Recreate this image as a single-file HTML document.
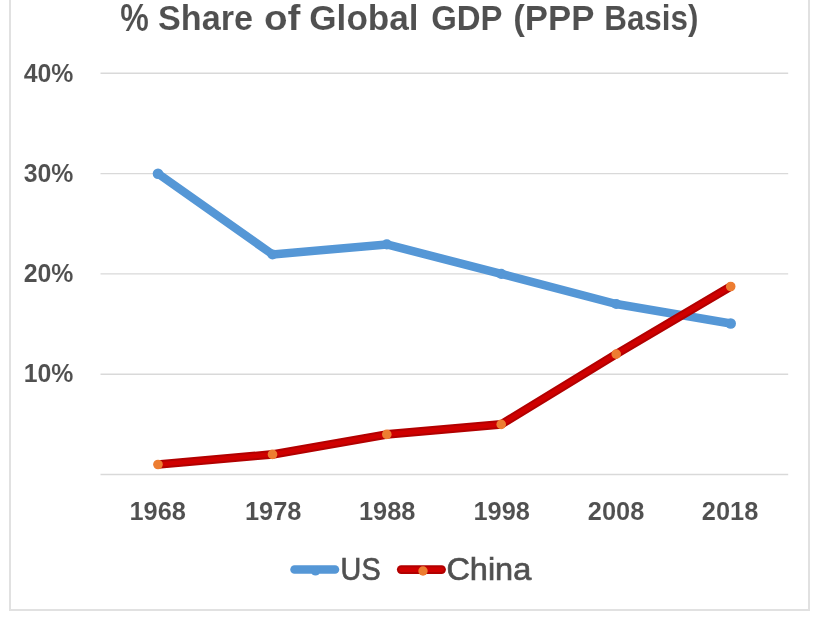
<!DOCTYPE html>
<html>
<head>
<meta charset="utf-8">
<title>% Share of Global GDP (PPP Basis)</title>
<style>
html,body{margin:0;padding:0;background:#fff;}
body{width:830px;height:622px;overflow:hidden;}
svg{display:block;filter:blur(0.45px);}
text{font-family:"Liberation Sans",sans-serif;fill:#505050;}
.b{font-weight:bold;stroke:#fff;stroke-width:0.08px;}
</style>
</head>
<body>
<svg width="830" height="622" viewBox="0 0 830 622">
<rect x="0" y="0" width="830" height="622" fill="#ffffff"/>
<!-- chart frame -->
<rect x="10" y="-20" width="799" height="630" fill="none" stroke="#e1e1e1" stroke-width="2"/>
<!-- gridlines -->
<g stroke="#d9d9d9" stroke-width="1.4">
<line x1="100.5" y1="73.3" x2="788.2" y2="73.3"/>
<line x1="100.5" y1="173.6" x2="788.2" y2="173.6"/>
<line x1="100.5" y1="273.9" x2="788.2" y2="273.9"/>
<line x1="100.5" y1="374.2" x2="788.2" y2="374.2"/>
<line x1="100.5" y1="474.5" x2="788.2" y2="474.5"/>
</g>
<!-- title -->
<text class="b" y="30" font-size="35"><tspan x="120.3" y="30.6" font-size="39" textLength="28.6" lengthAdjust="spacingAndGlyphs">%</tspan><tspan x="158" y="30" textLength="95" lengthAdjust="spacingAndGlyphs">Share</tspan><tspan x="264" textLength="36.5" lengthAdjust="spacingAndGlyphs">of</tspan><tspan x="309.3" textLength="109.3" lengthAdjust="spacingAndGlyphs">Global</tspan><tspan x="431.2" textLength="71.4" lengthAdjust="spacingAndGlyphs">GDP</tspan><tspan x="513.2" textLength="81.2" lengthAdjust="spacingAndGlyphs">(PPP</tspan><tspan x="604.2" textLength="94.3" lengthAdjust="spacingAndGlyphs">Basis)</tspan></text>
<!-- y labels -->
<g class="b" font-size="25.4">
<text x="23.7" y="81.5" textLength="49.8" lengthAdjust="spacingAndGlyphs">40%</text>
<text x="23.7" y="181.5" textLength="49.8" lengthAdjust="spacingAndGlyphs">30%</text>
<text x="23.7" y="282" textLength="49.8" lengthAdjust="spacingAndGlyphs">20%</text>
<text x="23.7" y="382.4" textLength="49.8" lengthAdjust="spacingAndGlyphs">10%</text>
</g>
<!-- x labels -->
<g class="b" font-size="25.4">
<text x="129.4" y="520.1" textLength="56.5" lengthAdjust="spacingAndGlyphs">1968</text>
<text x="245" y="520.1" textLength="56.5" lengthAdjust="spacingAndGlyphs">1978</text>
<text x="358.9" y="520.1" textLength="56.5" lengthAdjust="spacingAndGlyphs">1988</text>
<text x="473.5" y="520.1" textLength="56.5" lengthAdjust="spacingAndGlyphs">1998</text>
<text x="587.8" y="520.1" textLength="56.5" lengthAdjust="spacingAndGlyphs">2008</text>
<text x="701.8" y="520.1" textLength="56.5" lengthAdjust="spacingAndGlyphs">2018</text>
</g>
<!-- US line -->
<polyline fill="none" stroke="#5597d6" stroke-width="8.5" stroke-linecap="round" stroke-linejoin="round"
 points="158.0,173.6 272.5,254.4 386.8,244.4 501.2,273.9 616.2,304.0 730.7,323.5"/>
<g fill="#5597d6">
<circle cx="158.0" cy="173.8" r="5.3"/>
<circle cx="272.5" cy="254.5" r="5.1"/>
<circle cx="386.8" cy="244.4" r="5.1"/>
<circle cx="501.2" cy="273.8" r="5.1"/>
<circle cx="616.2" cy="304.0" r="5.1"/>
<circle cx="730.7" cy="323.5" r="5.3"/>
</g>
<!-- China line -->
<polyline fill="none" stroke="#b20000" stroke-width="8.6" stroke-linecap="round" stroke-linejoin="round"
 points="158.0,464.5 272.5,454.4 386.8,434.4 501.2,424.4 616.2,354.1 730.7,286.5"/>
<polyline fill="none" stroke="#cf0000" stroke-width="4.6" stroke-linecap="round" stroke-linejoin="round"
 points="158.0,464.5 272.5,454.4 386.8,434.4 501.2,424.4 616.2,354.1 730.7,286.5"/>
<g fill="#ed7d31">
<circle cx="158.0" cy="464.5" r="4.8"/>
<circle cx="272.5" cy="454.4" r="4.8"/>
<circle cx="386.8" cy="434.4" r="4.8"/>
<circle cx="501.2" cy="424.4" r="4.8"/>
<circle cx="616.2" cy="354.1" r="4.8"/>
<circle cx="730.7" cy="286.5" r="4.8"/>
</g>
<!-- legend -->
<line x1="294.5" y1="569.5" x2="335" y2="569.5" stroke="#5597d6" stroke-width="8.5" stroke-linecap="round"/>
<circle cx="315.5" cy="571" r="4.6" fill="#5597d6"/>
<text x="340.6" y="579.6" font-size="32" stroke="#505050" stroke-width="0.7" textLength="40" lengthAdjust="spacingAndGlyphs">US</text>
<line x1="401.2" y1="569.6" x2="441.6" y2="569.6" stroke="#b20000" stroke-width="8.6" stroke-linecap="round"/>
<line x1="401.2" y1="569.6" x2="441.6" y2="569.6" stroke="#cf0000" stroke-width="4.6" stroke-linecap="round"/>
<circle cx="423" cy="571" r="4.7" fill="#ed7d31"/>
<text x="446.4" y="579.6" font-size="32" stroke="#505050" stroke-width="0.7" textLength="84.8" lengthAdjust="spacingAndGlyphs">China</text>
</svg>
</body>
</html>
